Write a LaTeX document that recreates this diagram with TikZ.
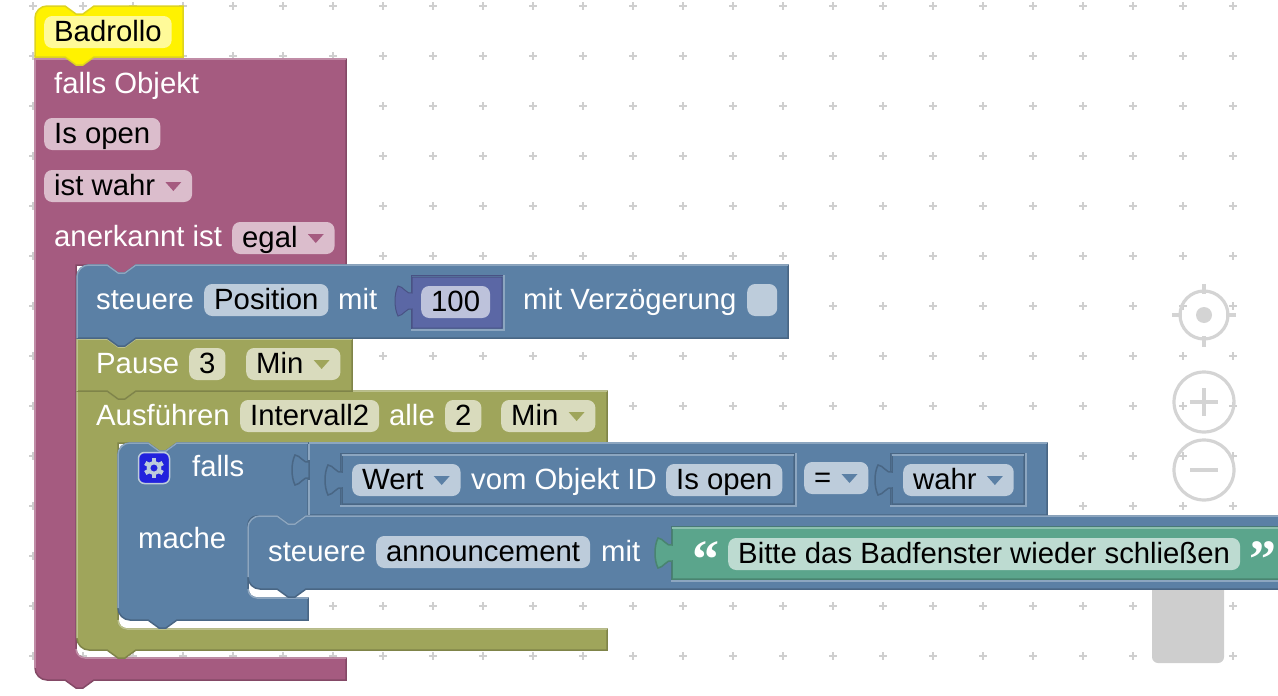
\documentclass[tikz,border=0pt]{standalone}
\usepackage{fontspec}
\setmainfont{Liberation Sans}
\newfontfamily\quotefont{Liberation Serif}[BoldFont={Liberation Serif Bold}]
\definecolor{purplebase}{HTML}{A55B80}
\definecolor{purpledark}{HTML}{844966}
\definecolor{purplelit}{HTML}{C08CA6}
\definecolor{purplefield}{HTML}{DBBDCC}
\definecolor{bluebase}{HTML}{5B80A5}
\definecolor{bluedark}{HTML}{496684}
\definecolor{bluelit}{HTML}{8CA6C0}
\definecolor{bluefield}{HTML}{BDCCDB}
\definecolor{olivebase}{HTML}{9FA55B}
\definecolor{olivedark}{HTML}{7F8449}
\definecolor{olivelit}{HTML}{BCC18C}
\definecolor{olivefield}{HTML}{D9DBBD}
\definecolor{greenbase}{HTML}{5BA58C}
\definecolor{greendark}{HTML}{498470}
\definecolor{greenlit}{HTML}{8CC0AE}
\definecolor{greenfield}{HTML}{BDDBD1}
\definecolor{violetbase}{HTML}{5B67A5}
\definecolor{violetdark}{HTML}{495284}
\definecolor{violetfield}{HTML}{BDC2DB}
\definecolor{gridgrey}{HTML}{CFCFCF}
\definecolor{icongrey}{HTML}{D4D4D4}
\definecolor{scrollgrey}{HTML}{CECECE}
\definecolor{gearblue}{HTML}{2222DD}
\newcommand{\notchR}[2]{-- (#1,#2) -- ++(11,8) -- ++(7,0) -- ++(11,-8)}
\newcommand{\notchL}[2]{-- ({#1+29},#2) -- ++(-11,8) -- ++(-7,0) -- ++(-11,-8)}
\newcommand{\corner}[6]{.. controls ({#1+.55*(#3-#1)},{#2+.55*(#4-#2)}) and ({#5+.55*(#3-#5)},{#6+.55*(#4-#6)}) .. (#5,#6)}
\newcommand{\puzzletab}[2]{-- (#1,#2) .. controls ({#1-5},{#2+2}) and ({#1-9},{#2-7}) .. ({#1-14},{#2-7}) .. controls ({#1-18},{#2+1}) and ({#1-18},{#2+15}) .. ({#1-14},{#2+23}) .. controls ({#1-9},{#2+23}) and ({#1-5},{#2+14}) .. (#1,{#2+16})}
\newcommand{\holeedge}[6]{\draw[draw=#5,line width=1] (#1,#4) -- (#1,#2) -- (#3,#2); \draw[draw=#6,line width=1.5] (#3,#2) -- (#3,#4) -- (#1,#4);}
\newcommand{\ddarrow}[2]{\fill[#2] ([shift={(-27,-4)}]#1.east) -- ++(16,0) -- ++(-8,9) -- cycle;}
\newcommand{\ddgap}{\rule{27pt}{0pt}}
\tikzset{
  blockpurple/.style={fill=purplebase,draw=purpledark,line width=1.5},
  blockblue/.style={fill=bluebase,draw=bluedark,line width=1.5},
  blockolive/.style={fill=olivebase,draw=olivedark,line width=1.5},
  blockgreen/.style={fill=greenbase,draw=greendark,line width=1.5},
  blockviolet/.style={fill=violetbase,draw=violetdark,line width=1},
  blockyellow/.style={fill=yellow,draw=yellow!85!black,line width=1.5},
  edgeline/.style={line width=1.5},
  lbl/.style={anchor=west,inner sep=0pt,text height=22pt,text depth=4pt,text=white},
  field/.style={anchor=west,rounded corners=8,minimum height=32pt,inner xsep=10pt,inner ysep=0pt,text height=22pt,text depth=4pt,text=black},
  gridplus/.style={draw=gridgrey,line width=1.3},
  zoomicon/.style={draw=icongrey,line width=3.2}
}
\begin{document}
\begin{tikzpicture}[x=1pt,y=-1pt,every node/.style={font=\fontsize{29.3}{32}\selectfont}]
  \useasboundingbox (0,0) rectangle (1278,696);
  \foreach \gx in {33,83,...,1233}
    \foreach \gy in {6,56,...,656}
      \draw[gridplus] (\gx-4,\gy) -- (\gx+4,\gy) (\gx,\gy-4) -- (\gx,\gy+4);

  \fill[scrollgrey,rounded corners=6] (1152,580) rectangle (1224,663);
  \draw[zoomicon] (1204,315) circle (24);
  \fill[icongrey] (1204,315) circle (8);
  \draw[zoomicon] (1204,284) -- (1204,294) (1204,336) -- (1204,347) (1172,315) -- (1182,315) (1226,315) -- (1236,315);
  \draw[zoomicon] (1204,402) circle (30);
  \draw[zoomicon] (1190,402) -- (1218,402) (1204,388) -- (1204,416);
  \draw[zoomicon] (1204,470) circle (30);
  \draw[zoomicon] (1190,470) -- (1218,470);

  \filldraw[blockpurple] (35,59) -- (346,59) -- (346,265) \notchL{107}{265} -- (76,265) -- (76,649) \corner{76}{649}{76}{658}{85}{658} -- (346,658) -- (346,680) \notchL{65}{680} -- (47,680) \corner{47}{680}{35}{680}{35}{668} -- cycle;
  \draw[edgeline,purplelit] (35,668) -- (35,59) -- (346,59);
  \draw[edgeline,purplelit] (76,649) \corner{76}{649}{76}{658}{85}{658} -- (346,658);

  \filldraw[blockolive] (127,629) -- (607,629) -- (607,650) \notchL{107}{650} -- (89,650) \corner{89}{650}{77}{650}{77}{638} -- (77,391) \notchR{107}{391} -- (607,391) -- (607,443) \notchL{148}{443} -- (118,443) -- (118,620) \corner{118}{620}{118}{629}{127}{629} -- cycle;
  \draw[edgeline,olivelit] (77,638) -- (77,391) \notchR{107}{391} -- (607,391);
  \draw[edgeline,olivelit] (118,620) \corner{118}{620}{118}{629}{127}{629} -- (607,629);

  \filldraw[blockolive] (77,339) \notchR{107}{339} -- (352,339) -- (352,391) \notchL{107}{391} -- (77,391) -- cycle;
  \draw[edgeline,olivelit] (77,391) -- (77,339) \notchR{107}{339} -- (352,339);

  \filldraw[blockblue] (77,277) \corner{77}{277}{77}{265}{89}{265} \notchR{107}{265} -- (788,265) -- (788,338) \notchL{107}{338} -- (77,338) -- cycle;
  \draw[edgeline,bluelit] (77,338) -- (77,277) \corner{77}{277}{77}{265}{89}{265} \notchR{107}{265} -- (788,265);

  \filldraw[blockblue] (118,455) \corner{118}{455}{118}{443}{130}{443} \notchR{148}{443} -- (308,443) -- (308,516) \notchL{277}{516} -- (257,516) \corner{257}{516}{248}{516}{248}{525} -- (248,589) \corner{248}{589}{248}{598}{257}{598} -- (308,598) -- (308,620) \notchL{148}{620} -- (130,620) \corner{130}{620}{118}{620}{118}{608} -- cycle;
  \draw[edgeline,bluelit] (118,608) -- (118,455) \corner{118}{455}{118}{443}{130}{443} \notchR{148}{443} -- (308,443);
  \draw[edgeline,bluelit] (248,589) \corner{248}{589}{248}{598}{257}{598} -- (308,598);

  \filldraw[blockblue] (309,443) -- (1047,443) -- (1047,515) -- (309,515) \puzzletab{309}{462} -- cycle;
  \draw[edgeline,bluelit] (309,443) -- (1047,443);
  \draw[edgeline,bluelit] (309,444) -- (309,460) (309,480) -- (309,515);

  \holeedge{340}{453}{796}{506}{bluedark}{bluelit}
  \filldraw[blockblue] (342,455) \puzzletab{342}{472} -- (342,504) -- (794,504) -- (794,455) -- cycle;
  \draw[edgeline,bluelit] (342,455) -- (794,455);
  \holeedge{890}{453}{1026}{506}{bluedark}{bluelit}
  \filldraw[blockblue] (892,455) \puzzletab{892}{472} -- (892,504) -- (1024,504) -- (1024,455) -- cycle;
  \draw[edgeline,bluelit] (892,455) -- (1024,455);

  \filldraw[blockblue] (248,528) \corner{248}{528}{248}{516}{260}{516} \notchR{277}{516} -- (1290,516) -- (1290,589) \notchL{277}{589} -- (260,589) \corner{260}{589}{248}{589}{248}{577} -- cycle;
  \draw[edgeline,bluelit] (248,577) -- (248,528) \corner{248}{528}{248}{516}{260}{516} \notchR{277}{516} -- (1290,516);

  \holeedge{671}{526}{1290}{581}{bluedark}{bluelit}
  \filldraw[blockgreen] (672,527) \puzzletab{672}{545} -- (672,579) -- (1290,579) -- (1290,527) -- cycle;
  \draw[edgeline,greenlit] (672,528) -- (1290,528);

  \holeedge{411}{275}{504}{330}{violetdark}{bluelit}
  \filldraw[blockviolet] (412,277) \puzzletab{412}{293} -- (412,328) -- (502,328) -- (502,277) -- cycle;

  \filldraw[blockyellow] (35,18) \corner{35}{18}{35}{6}{47}{6} \notchR{65}{6} -- (183,6) -- (183,57) \notchL{65}{57} -- (35,57) -- cycle;

  \node[field,fill=yellow!40!white] (badrollo) at (44,32) {Badrollo};
  \node[lbl] (fallsobjekt) at (54,84) {falls Objekt};
  \node[field,fill=purplefield] (isopen) at (44,134) {Is open};
  \node[field,fill=purplefield] (istwahr) at (44,186) {ist wahr\ddgap};
  \ddarrow{istwahr}{purplebase}
  \node[lbl] (anerkannt) at (54,237) {anerkannt ist};
  \node[field,fill=purplefield] (egal) at (232,238) {egal\ddgap};
  \ddarrow{egal}{purplebase}

  \node[lbl] (steuerepos) at (96,300) {steuere};
  \node[field,fill=bluefield] (position) at (204,300) {Position};
  \node[lbl] (mitpos) at (338,300) {mit};
  \node[field,fill=violetfield] (hundred) at (421,302) {100};
  \node[lbl] (verzoegerung) at (523,300) {mit Verzögerung};
  \node[field,fill=bluefield,minimum width=30pt,inner xsep=0pt] (delay) at (747,300) {};

  \node[lbl] (pause) at (96,364) {Pause};
  \node[field,fill=olivefield] (three) at (189,364) {3};
  \node[field,fill=olivefield] (minpause) at (246,364) {Min\ddgap};
  \ddarrow{minpause}{olivebase}

  \node[lbl] (ausfuehren) at (96,416) {Ausführen};
  \node[field,fill=olivefield] (intervall) at (240,416) {Intervall2};
  \node[lbl] (alle) at (389,416) {alle};
  \node[field,fill=olivefield] (two) at (445,416) {2};
  \node[field,fill=olivefield] (mininterval) at (501,416) {Min\ddgap};
  \ddarrow{mininterval}{olivebase}

  \node[draw=bluefield,fill=gearblue,line width=1.5,rounded corners=6,minimum size=31pt,inner sep=0pt] (gearbox) at (154,468) {};
  \foreach \a in {30,90,...,330}
    \draw[draw=bluefield,line width=4.5] (gearbox.center) ++(\a:5) -- ++(\a:5);
  \draw[draw=bluefield,line width=3.5] (gearbox.center) circle (5.5);
  \node[lbl] (falls) at (192,467) {falls};
  \node[lbl] (mache) at (138,539) {mache};

  \node[field,fill=bluefield] (wert) at (352,480) {Wert\ddgap};
  \ddarrow{wert}{bluebase}
  \node[lbl] (vomobjekt) at (471,480) {vom Objekt ID};
  \node[field,fill=bluefield] (isopenid) at (666,480) {Is open};
  \node[field,fill=bluefield] (equals) at (804,478) {=\ddgap};
  \ddarrow{equals}{bluebase}
  \node[field,fill=bluefield] (wahr) at (903,480) {wahr\ddgap};
  \ddarrow{wahr}{bluebase}

  \node[lbl] (steuereann) at (268,552) {steuere};
  \node[field,fill=bluefield] (announcement) at (376,552) {announcement};
  \node[lbl] (mitann) at (601,552) {mit};
  \node[lbl,font=\fontsize{54}{54}\quotefont\bfseries\selectfont] (quoteopen) at (692,568) {“};
  \node[field,fill=greenfield] (bitte) at (728,554) {Bitte das Badfenster wieder schließen};
  \node[lbl,font=\fontsize{54}{54}\quotefont\bfseries\selectfont] (quoteclose) at (1249,568) {”};
\end{tikzpicture}
\end{document}
